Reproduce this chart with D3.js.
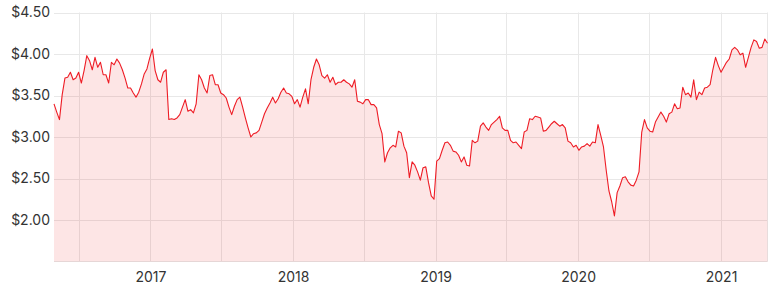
<!DOCTYPE html>
<html>
<head>
<meta charset="utf-8">
<script src="https://cdn.jsdelivr.net/npm/d3@7"></script>
<style>
  body { margin: 0; background: #fff; }
  svg text { font-family: Inter, "Open Sans", sans-serif; fill: #333; }
</style>
</head>
<body>
<svg id="chart" width="777" height="291"></svg>
<script>
// weekly closing prices, 29 Apr 2016 .. 30 Apr 2021
var prices = [
  3.40, 3.30, 3.21, 3.51, 3.71, 3.72, 3.78, 3.69, 3.71, 3.78,
  3.65, 3.80, 3.98, 3.92, 3.81, 3.96, 3.84, 3.90, 3.75, 3.75,
  3.65, 3.90, 3.87, 3.94, 3.89, 3.81, 3.71, 3.59, 3.59, 3.53,
  3.48, 3.54, 3.64, 3.76, 3.82, 3.95, 4.06, 3.80, 3.69, 3.66,
  3.78, 3.81, 3.21, 3.22, 3.21, 3.23, 3.27, 3.36, 3.45, 3.31,
  3.33, 3.29, 3.40, 3.75, 3.69, 3.59, 3.53, 3.74, 3.75, 3.63,
  3.63, 3.53, 3.51, 3.47, 3.36, 3.27, 3.37, 3.45, 3.48, 3.36,
  3.23, 3.11, 3.00, 3.04, 3.05, 3.08, 3.18, 3.28, 3.35, 3.41,
  3.48, 3.41, 3.46, 3.54, 3.59, 3.53, 3.52, 3.49, 3.40, 3.45,
  3.36, 3.48, 3.58, 3.40, 3.69, 3.84, 3.94, 3.87, 3.74, 3.71,
  3.75, 3.66, 3.72, 3.63, 3.66, 3.66, 3.69, 3.66, 3.64, 3.60,
  3.69, 3.43, 3.42, 3.40, 3.45, 3.45, 3.39, 3.39, 3.35, 3.15,
  3.04, 2.70, 2.81, 2.87, 2.90, 2.88, 3.07, 3.05, 2.89, 2.81,
  2.51, 2.70, 2.66, 2.58, 2.48, 2.63, 2.64, 2.45, 2.29, 2.25,
  2.71, 2.74, 2.84, 2.93, 2.94, 2.90, 2.83, 2.82, 2.78, 2.70,
  2.76, 2.66, 2.65, 2.96, 2.93, 2.95, 3.13, 3.17, 3.12, 3.08,
  3.15, 3.18, 3.21, 3.25, 3.11, 3.08, 3.08, 2.96, 2.93, 2.94,
  2.90, 2.86, 3.06, 3.08, 3.22, 3.21, 3.25, 3.24, 3.23, 3.07,
  3.08, 3.12, 3.16, 3.19, 3.16, 3.13, 3.15, 3.11, 2.95, 2.93,
  2.88, 2.90, 2.84, 2.88, 2.89, 2.92, 2.89, 2.94, 2.93, 3.15,
  3.02, 2.88, 2.60, 2.35, 2.22, 2.05, 2.33, 2.41, 2.51, 2.52,
  2.46, 2.42, 2.41, 2.48, 2.58, 3.06, 3.21, 3.11, 3.07, 3.06,
  3.18, 3.24, 3.30, 3.25, 3.18, 3.28, 3.30, 3.40, 3.34, 3.35,
  3.60, 3.51, 3.53, 3.48, 3.69, 3.45, 3.54, 3.51, 3.59, 3.60,
  3.63, 3.81, 3.96, 3.86, 3.78, 3.84, 3.90, 3.94, 4.05, 4.08,
  4.05, 3.99, 4.01, 3.84, 3.96, 4.08, 4.17, 4.15, 4.07, 4.08,
  4.18, 4.13
];
var priceTicks = [2.00, 2.50, 3.00, 3.50, 4.00, 4.50];
var yearTicks = ["2017", "2018", "2019", "2020", "2021"];

var parse = d3.timeParse("%Y-%m-%d");
var start = parse("2016-04-29");
var dates = prices.map(function(p, i){ return d3.timeDay.offset(start, 7 * i); });
var data = prices.map(function(p, i){ return {date: dates[i], price: p}; });

var svg = d3.select("#chart");
var plotLeft = 54, plotRight = 767.5, plotTop = 12.5, plotBottom = 261.5;

var x = d3.scaleTime()
  .domain(d3.extent(dates))
  .range([plotLeft, plotRight]);
var y = d3.scaleLinear()
  .domain([1.5, 4.5])
  .range([plotBottom, plotTop]);

// grid
var grid = svg.append("g");
grid.selectAll("line.h")
  .data(priceTicks)
  .enter().append("line")
  .attr("x1", plotLeft).attr("x2", plotRight)
  .attr("y1", function(d){ return Math.round(y(d)) + 0.5; })
  .attr("y2", function(d){ return Math.round(y(d)) + 0.5; })
  .attr("stroke", "#e8e8e8");
grid.selectAll("line.v")
  .data(d3.timeMonth.every(6).range(x.domain()[0], x.domain()[1]))
  .enter().append("line")
  .attr("x1", function(d){ return Math.round(x(d)) + 0.5; })
  .attr("x2", function(d){ return Math.round(x(d)) + 0.5; })
  .attr("y1", plotTop).attr("y2", plotBottom)
  .attr("stroke", "#e8e8e8");
grid.append("line")
  .attr("x1", plotRight).attr("x2", plotRight)
  .attr("y1", plotTop).attr("y2", plotBottom)
  .attr("stroke", "#e8e8e8");

// area + line
var area = d3.area()
  .x(function(d){ return x(d.date); })
  .y0(plotBottom)
  .y1(function(d){ return y(d.price); });
var line = d3.line()
  .x(function(d){ return x(d.date); })
  .y(function(d){ return y(d.price); });

svg.append("path")
  .datum(data)
  .attr("d", area)
  .attr("fill", "rgba(240, 40, 40, 0.12)");
svg.append("line")
  .attr("x1", plotLeft).attr("x2", plotRight)
  .attr("y1", plotBottom).attr("y2", plotBottom)
  .attr("stroke", "#e6d6d6");
svg.append("path")
  .datum(data)
  .attr("d", line)
  .attr("fill", "none")
  .attr("stroke", "#ee1c25")
  .attr("stroke-width", 1.1)
  .attr("stroke-linejoin", "round");

// y axis labels
var yAxis = svg.append("g")
  .attr("transform", "translate(" + plotLeft + ",0)")
  .call(d3.axisLeft(y)
    .tickValues(priceTicks)
    .tickSize(0)
    .tickPadding(4)
    .tickFormat(function(d){ return "$" + d.toFixed(2); }));
yAxis.select(".domain").remove();
yAxis.selectAll("text").style("font-size", "14px").attr("fill", "#333");

// x axis labels
var xAxis = svg.append("g")
  .attr("transform", "translate(0," + plotBottom + ")")
  .call(d3.axisBottom(x)
    .tickValues(yearTicks.map(function(t){ return parse(t + "-01-01"); }))
    .tickSize(0)
    .tickPadding(11)
    .tickFormat(d3.timeFormat("%Y")));
xAxis.select(".domain").remove();
xAxis.selectAll("text").style("font-size", "14px").attr("fill", "#333");
</script>
</body>
</html>
